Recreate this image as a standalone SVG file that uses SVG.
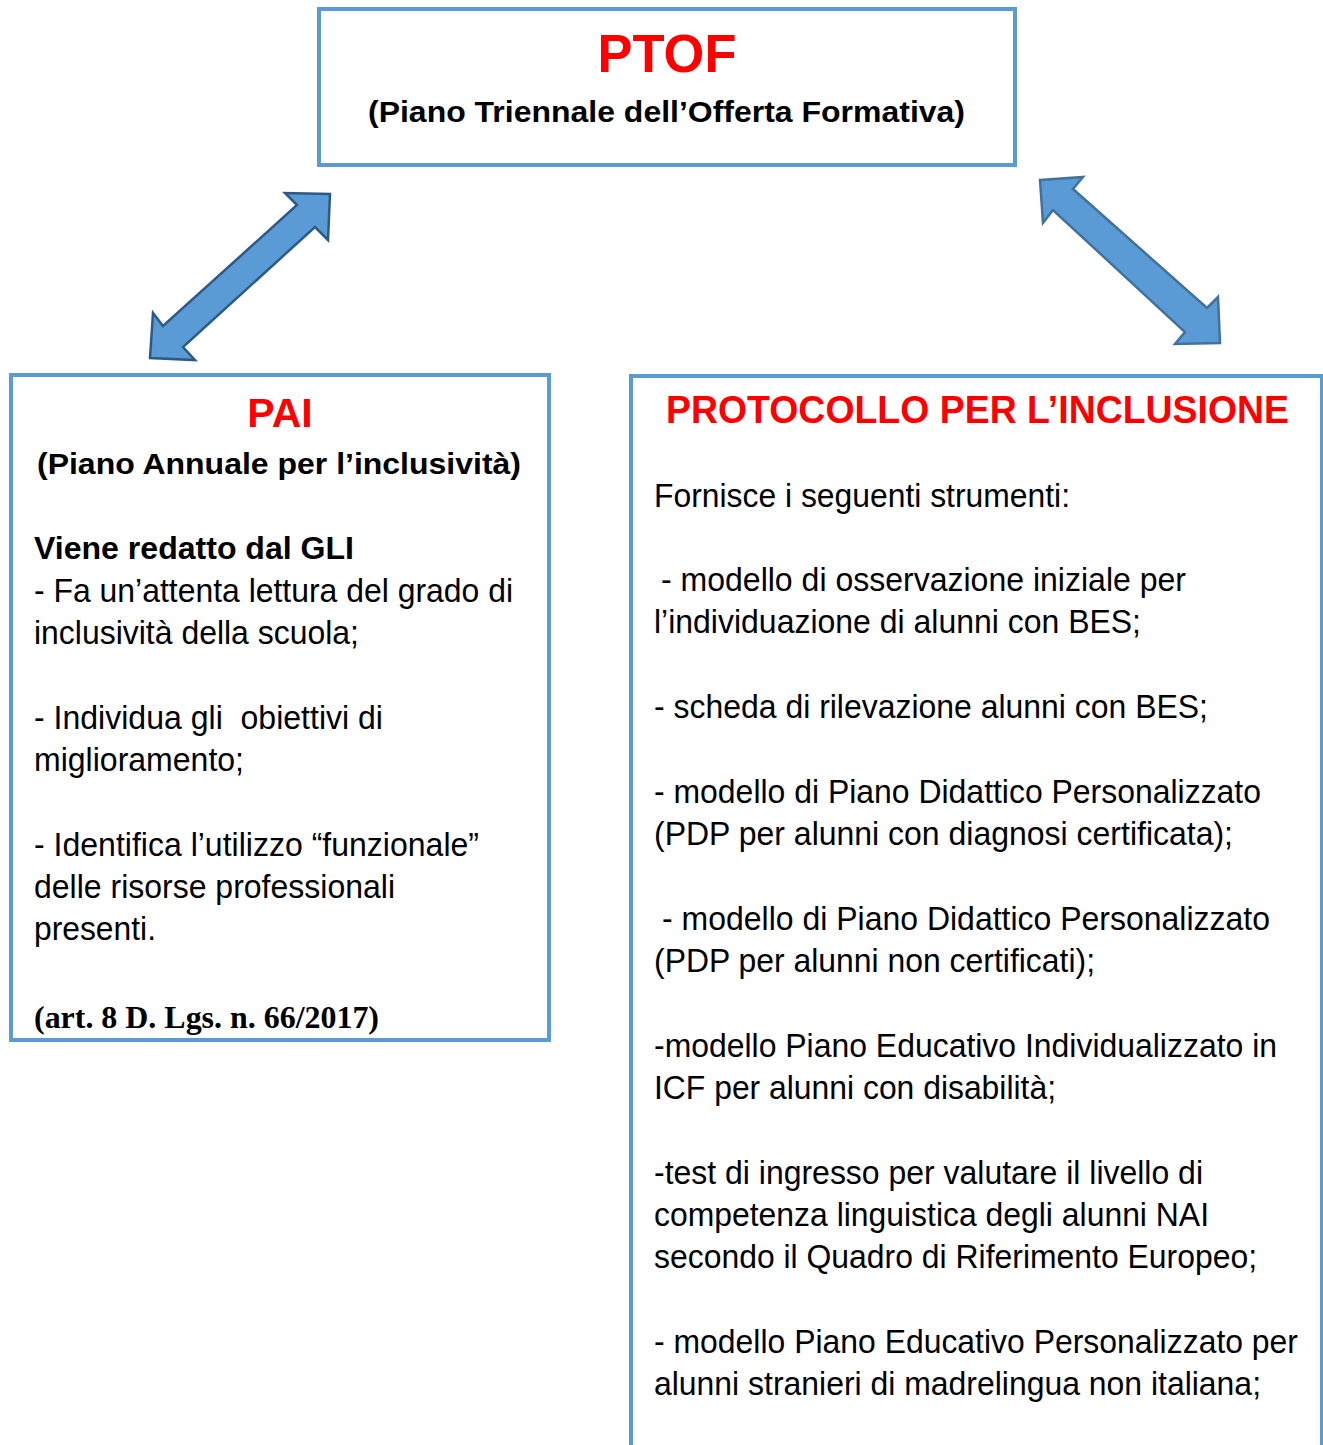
<svg xmlns="http://www.w3.org/2000/svg" width="1323" height="1445" viewBox="0 0 1323 1445">
<style>
.box{fill:#ffffff;stroke:#5b9bd5;stroke-width:4}
.border{fill:none;stroke:#5b9bd5;stroke-width:4}
.arrow{fill:#5b9bd5;stroke-width:2.5;stroke-linejoin:miter}
.t{font-family:"Liberation Sans",Arial,sans-serif;font-size:33px;fill:#000000}
.b{font-family:"Liberation Sans",Arial,sans-serif;font-weight:bold;fill:#000000}
.red{font-family:"Liberation Sans",Arial,sans-serif;font-weight:bold;fill:#ff0000}
.tm{font-family:"Liberation Serif","Times New Roman",serif;font-weight:bold;font-size:32px;fill:#000000}
</style>
<defs>
<clipPath id="paiClip"><rect x="13" y="377" width="534" height="661"/></clipPath>
</defs>
<rect width="1323" height="1445" fill="#ffffff"/>

<g id="connectors">
<polygon class="arrow" stroke="#2c5a85" points="330,194 328,240 315,227 183,347 195,360 150,358 153,313 163,326 297,205 285,193"/>
<polygon class="arrow" stroke="#41719c" points="1040,180 1083,177 1073,189 1207,308 1218,297 1220,343 1175,344 1185,332 1053,210 1043,223"/>
</g>

<g id="ptof">
<rect class="box" x="319" y="9" width="696" height="156"/>
<text class="red" x="667" y="72" font-size="54" text-anchor="middle" textLength="139" lengthAdjust="spacingAndGlyphs">PTOF</text>
<text class="b" x="368" y="122" font-size="30" textLength="597" lengthAdjust="spacingAndGlyphs">(Piano Triennale dell’Offerta Formativa)</text>
</g>

<g id="pai">
<rect x="11" y="375" width="538" height="665" fill="#ffffff"/>
<g clip-path="url(#paiClip)">
<text class="red" x="280" y="427" font-size="41" text-anchor="middle">PAI</text>
<text class="b" x="37" y="474" font-size="30" textLength="484" lengthAdjust="spacingAndGlyphs">(Piano Annuale per l’inclusività)</text>
<text class="b" x="34" y="559" font-size="31" textLength="320" lengthAdjust="spacingAndGlyphs">Viene redatto dal GLI</text>
<text class="t" x="34" y="602" textLength="479" lengthAdjust="spacingAndGlyphs">- Fa un’attenta lettura del grado di</text>
<text class="t" x="34" y="644" textLength="325" lengthAdjust="spacingAndGlyphs">inclusività della scuola;</text>
<text class="t" x="34" y="729" textLength="349" lengthAdjust="spacingAndGlyphs" xml:space="preserve">- Individua gli  obiettivi di</text>
<text class="t" x="34" y="771" textLength="210" lengthAdjust="spacingAndGlyphs">miglioramento;</text>
<text class="t" x="34" y="856" textLength="445" lengthAdjust="spacingAndGlyphs">- Identifica l’utilizzo “funzionale”</text>
<text class="t" x="34" y="898" textLength="361" lengthAdjust="spacingAndGlyphs">delle risorse professionali</text>
<text class="t" x="34" y="940" textLength="122" lengthAdjust="spacingAndGlyphs">presenti.</text>
<text class="tm" x="34" y="1028" textLength="345" lengthAdjust="spacingAndGlyphs">(art. 8 D. Lgs. n. 66/2017)</text>
</g>
<rect class="border" x="11" y="375" width="538" height="665"/>
</g>

<g id="protocollo">
<rect class="box" x="631" y="376" width="691" height="1110"/>
<text class="red" x="666" y="423" font-size="38" textLength="623" lengthAdjust="spacingAndGlyphs">PROTOCOLLO PER L’INCLUSIONE</text>
<text class="t" x="654" y="507" textLength="416" lengthAdjust="spacingAndGlyphs">Fornisce i seguenti strumenti:</text>
<text class="t" x="661" y="591" textLength="525" lengthAdjust="spacingAndGlyphs">- modello di osservazione iniziale per</text>
<text class="t" x="654" y="633" textLength="487" lengthAdjust="spacingAndGlyphs">l’individuazione di alunni con BES;</text>
<text class="t" x="654" y="718" textLength="554" lengthAdjust="spacingAndGlyphs">- scheda di rilevazione alunni con BES;</text>
<text class="t" x="654" y="803" textLength="607" lengthAdjust="spacingAndGlyphs">- modello di Piano Didattico Personalizzato</text>
<text class="t" x="654" y="845" textLength="579" lengthAdjust="spacingAndGlyphs">(PDP per alunni con diagnosi certificata);</text>
<text class="t" x="662" y="930" textLength="608" lengthAdjust="spacingAndGlyphs">- modello di Piano Didattico Personalizzato</text>
<text class="t" x="654" y="972" textLength="441" lengthAdjust="spacingAndGlyphs">(PDP per alunni non certificati);</text>
<text class="t" x="654" y="1057" textLength="623" lengthAdjust="spacingAndGlyphs">-modello Piano Educativo Individualizzato in</text>
<text class="t" x="654" y="1099" textLength="402" lengthAdjust="spacingAndGlyphs">ICF per alunni con disabilità;</text>
<text class="t" x="654" y="1184" textLength="549" lengthAdjust="spacingAndGlyphs">-test di ingresso per valutare il livello di</text>
<text class="t" x="654" y="1226" textLength="555" lengthAdjust="spacingAndGlyphs">competenza linguistica degli alunni NAI</text>
<text class="t" x="654" y="1268" textLength="603" lengthAdjust="spacingAndGlyphs">secondo il Quadro di Riferimento Europeo;</text>
<text class="t" x="654" y="1353" textLength="644" lengthAdjust="spacingAndGlyphs">- modello Piano Educativo Personalizzato per</text>
<text class="t" x="654" y="1395" textLength="607" lengthAdjust="spacingAndGlyphs">alunni stranieri di madrelingua non italiana;</text>
</g>
</svg>
